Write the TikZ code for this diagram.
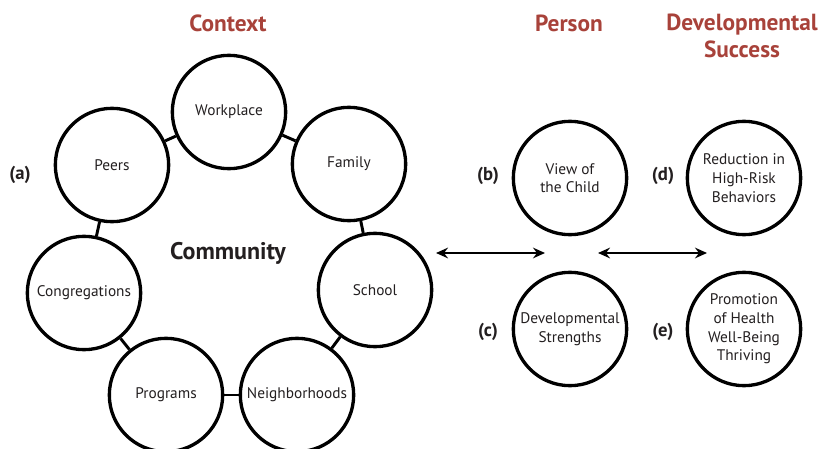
\documentclass[tikz,border=0pt]{standalone}
\usepackage{fontspec}
\setmainfont{PT Sans}
\usepackage{tikz}
\usetikzlibrary{arrows.meta,positioning}
\definecolor{TitleRed}{HTML}{A8423A}
\definecolor{Ink}{HTML}{231F20}

\begin{document}
\begin{tikzpicture}[x=0.75pt,y=-0.75pt]
			\tikzstyle{Ring}	= [circle, draw, line width=2.5pt, fill=white, minimum size=85pt, inner sep=0pt, align=center, text=Ink, font=\fontsize{11.5}{14}\selectfont]
			\tikzstyle{Link}	= [line width=2.2pt]
			\tikzstyle{Title}	= [TitleRed, align=center, font=\bfseries\fontsize{17.5}{20}\selectfont]
			\tikzstyle{Tag}		= [Ink, font=\bfseries\fontsize{14}{16}\selectfont]
			\tikzstyle{Both}	= [line width=1.5pt, {Stealth[length=9pt,width=8pt,inset=3pt]}-{Stealth[length=9pt,width=8pt,inset=3pt]}]
			
			\useasboundingbox (0,0) rectangle (821,449);
			
			% context ring
			\foreach \n/\x/\y/\t in {work/229/112/Workplace, peers/112/165/Peers, family/349/164/Family, cong/84/293/Congregations, school/375/290/School, prog/166/395/Programs, neigh/297/395/Neighborhoods}
				\node (\n) at (\x, \y) [Ring] {\t};
			\foreach \a/\b in {peers/work, work/family, family/school, school/neigh, neigh/prog, prog/cong, cong/peers}
				\draw [-] (\a) to (\b) [Link];
			\node at (228, 253) [Ink, font=\bfseries\fontsize{18}{20}\selectfont] {Community};
			
			% person and success
			\node (view) at (570, 178) [Ring] {View of\\the Child};
			\node (str) at (570, 329) [Ring] {Developmental\\Strengths};
			\node (red) at (744, 178) [Ring] {Reduction in\\High-Risk\\Behaviors};
			\node (prom) at (744, 329) [Ring] {Promotion\\of Health\\Well-Being\\Thriving};
			
			\node at (20, 175) [Tag] {(a)};
			\node at (488, 176) [Tag] {(b)};
			\node at (488, 332) [Tag] {(c)};
			\node at (663, 176) [Tag] {(d)};
			\node at (663, 332) [Tag] {(e)};
			
			\coordinate (l1) at (436, 253);
			\coordinate (r1) at (545, 253);
			\coordinate (l2) at (598, 253);
			\coordinate (r2) at (707, 253);
			\draw [Both] (l1) -- (r1);
			\draw [Both] (l2) -- (r2);
			
			\node at (228, 23) [Title] {Context};
			\node at (569, 23) [Title] {Person};
			\node at (742, 36) [Title] {Developmental\\Success};
		\end{tikzpicture}
\end{document}
